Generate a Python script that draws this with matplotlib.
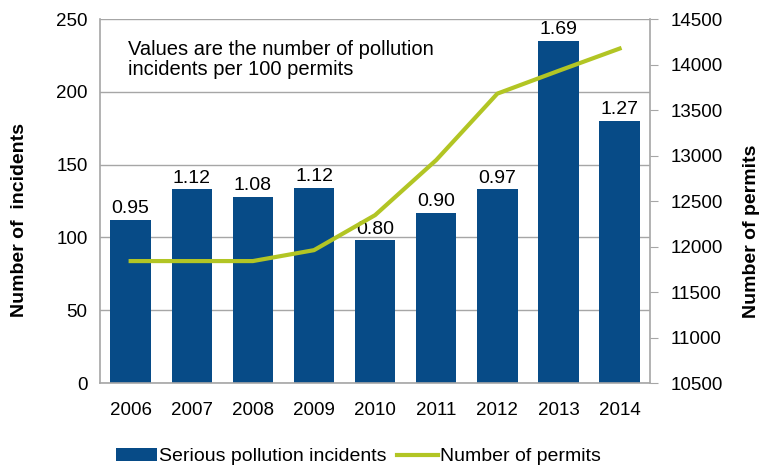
import numpy as np
import matplotlib
matplotlib.use("Agg")
import matplotlib.pyplot as plt

plt.rcParams['font.family'] = ['Liberation Sans', 'DejaVu Sans']

# data
years = ['2006', '2007', '2008', '2009', '2010', '2011', '2012', '2013', '2014']
incidents = [112, 133, 128, 134, 98, 117, 133, 235, 180]
permits = [11840, 11840, 11840, 11960, 12345, 12950, 13680, 13930, 14175]
rates = ['0.95', '1.12', '1.08', '1.12', '0.80', '0.90', '0.97', '1.69', '1.27']

bar_col = '#074b87'
line_col = '#b2c524'
grid_col = '#a6a6a6'

fig = plt.figure(figsize=(7.76, 4.68), dpi=100)
ax = fig.add_axes([0.129, 0.1816, 0.7088, 0.7778])
x = np.arange(len(years))

bars = ax.bar(x, incidents, width=0.66, color=bar_col, zorder=2,
              label='Serious pollution incidents')
for xi, h, r in zip(x, incidents, rates):
    ax.annotate(r, (xi, h), xytext=(0, 2), textcoords='offset points',
                ha='center', va='bottom', fontsize=14)

ax.set_ylim(0, 250)
ax.set_xlim(-0.5, len(years) - 0.5)
ax.set_yticks([0, 50, 100, 150, 200, 250])
ax.set_xticks(x)
ax.set_xticklabels(years)
ax.tick_params(axis='both', length=0, labelsize=13.5, pad=9)
ax.tick_params(axis='x', pad=14)
ax.yaxis.grid(True, color=grid_col, linewidth=1, zorder=0)
ax.set_axisbelow(True)
for s in ['top', 'right']:
    ax.spines[s].set_visible(False)
for s in ['left', 'bottom']:
    ax.spines[s].set_color(grid_col)
    ax.spines[s].set_linewidth(1.2)

ax2 = ax.twinx()
ln, = ax2.plot(x, permits, color=line_col, linewidth=3, zorder=3,
               label='Number of permits')
ax2.set_ylim(10500, 14500)
ax2.set_yticks(np.arange(10500, 14501, 500))
ax2.tick_params(axis='y', length=6, color=grid_col, direction='out',
                labelsize=13.5, pad=9)
for s in ['top', 'left', 'bottom']:
    ax2.spines[s].set_visible(False)
ax2.spines['right'].set_color(grid_col)
ax2.spines['right'].set_linewidth(1.2)

# axis titles
fig.text(20 / 776, 1 - 220 / 468, 'Number of  incidents', rotation=90,
         ha='center', va='center', fontsize=14, fontweight='bold')
fig.text(752 / 776, 1 - 231 / 468, 'Number of permits', rotation=90,
         ha='center', va='center', fontsize=14, fontweight='bold')

ax.text(0.05, 0.942, 'Values are the number of pollution\nincidents per 100 permits',
        transform=ax.transAxes, ha='left', va='top', fontsize=14.5, linespacing=1.05)

fig.legend([bars, ln], ['Serious pollution incidents', 'Number of permits'],
           loc='center', bbox_to_anchor=(0.462, 0.024), ncol=2, frameon=False,
           fontsize=14, handlelength=2.1, handleheight=0.6, handletextpad=0.15,
           columnspacing=0.5)

fig.savefig('out.png', dpi=100)
